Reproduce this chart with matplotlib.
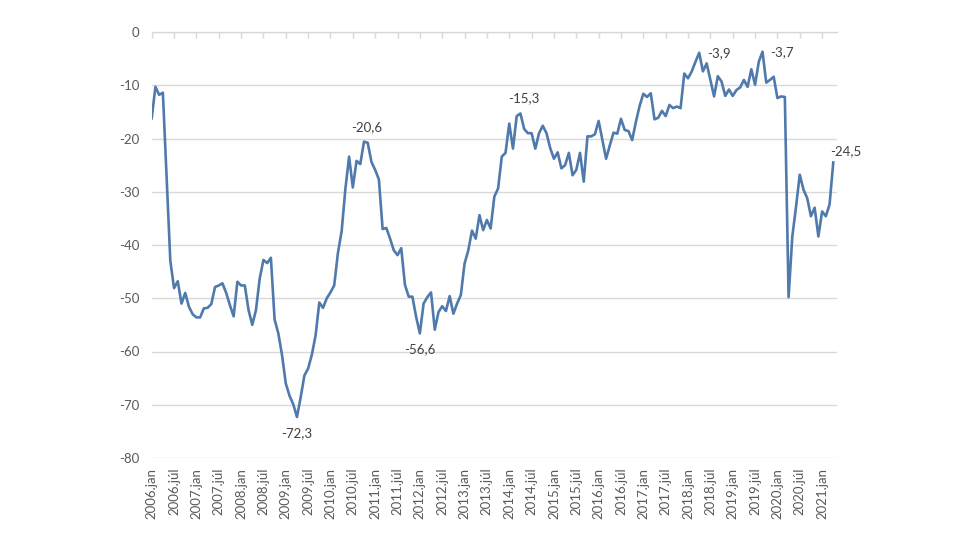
import matplotlib
matplotlib.use("Agg")
import matplotlib.pyplot as plt

values = [
    -16.2, -10.3, -11.8, -11.4, -27.0, -43.0, -48.1, -46.8, -51.0, -49.0, -51.6, -53.0,
    -53.6, -53.6, -51.9, -51.8, -51.1, -47.9, -47.6, -47.2, -49.0, -51.3, -53.4, -46.9,
    -47.6, -47.6, -52.2, -55.0, -52.2, -46.3, -42.8, -43.4, -42.4, -54.0, -56.6, -60.7,
    -66.0, -68.3, -69.9, -72.3, -68.6, -64.5, -63.2, -60.6, -57.0, -50.8, -51.8, -50.0,
    -48.9, -47.6, -41.5, -37.4, -29.5, -23.4, -29.2, -24.2, -24.8, -20.6, -20.8, -24.4,
    -25.9, -27.7, -37.0, -36.8, -38.8, -41.0, -41.9, -40.6, -47.5, -49.7, -49.7, -53.5,
    -56.6, -51.0, -49.8, -48.9, -55.9, -52.6, -51.5, -52.4, -49.6, -52.9, -51.0, -49.4,
    -43.5, -41.0, -37.3, -38.8, -34.4, -37.2, -35.3, -36.9, -30.9, -29.4, -23.4, -22.7,
    -17.2, -21.9, -15.8, -15.3, -18.2, -19.0, -19.0, -21.9, -19.0, -17.6, -19.0, -21.8,
    -23.8, -22.6, -25.6, -25.0, -22.7, -26.9, -25.9, -22.7, -28.1, -19.6, -19.6, -19.2,
    -16.7, -20.3, -23.8, -21.3, -18.9, -19.1, -16.3, -18.4, -18.6, -20.3, -16.9, -13.9,
    -11.6, -12.2, -11.5, -16.4, -16.1, -14.8, -15.8, -13.7, -14.3, -14.0, -14.3, -7.8,
    -8.7, -7.4, -5.6, -3.9, -7.4, -5.9, -9.0, -12.1, -8.3, -9.3, -12.0, -10.8,
    -12.0, -10.9, -10.4, -9.0, -10.3, -7.0, -9.9, -5.6, -3.7, -9.5, -9.0, -8.4,
    -12.4, -12.1, -12.2, -49.8, -38.4, -32.8, -26.8, -29.6, -31.2, -34.6, -33.0, -38.4,
    -33.7, -34.6, -32.4, -24.5,
]

tick_labels = [
    "2006.jan", "2006.júl", "2007.jan", "2007.júl", "2008.jan", "2008.júl",
    "2009.jan", "2009.júl", "2010.jan", "2010.júl", "2011.jan", "2011.júl",
    "2012.jan", "2012.júl", "2013.jan", "2013.júl", "2014.jan", "2014.júl",
    "2015.jan", "2015.júl", "2016.jan", "2016.júl", "2017.jan", "2017.júl",
    "2018.jan", "2018.júl", "2019.jan", "2019.júl", "2020.jan", "2020.júl",
    "2021.jan",
]
tick_step = 6

y_ticks = [0, -10, -20, -30, -40, -50, -60, -70, -80]

# annotated points: (index, position)
annotated = [(57, "above"), (39, "below"), (72, "below"), (99, "above"),
             (147, "right"), (164, "right"), (183, "aboveright")]

plt.rcParams['font.family'] = ['Lato', 'DejaVu Sans']
grey = "#595959"
grid_c = "#d9d9d9"
line_c = "#4f7aab"

fig = plt.figure(figsize=(9.6, 5.4), dpi=100)
ax = fig.add_axes([151.7 / 960, (540 - 458) / 540, (837 - 151.7) / 960, (458 - 32) / 540])

x = list(range(len(values)))
ax.plot(x, values, color=line_c, linewidth=1.9, solid_joinstyle="round", zorder=3)

ax.set_xlim(0, 184)
ax.set_ylim(-80, 0)

ax.set_yticks(y_ticks)
ax.set_yticklabels([str(v) for v in y_ticks])
ax.yaxis.grid(True, color=grid_c, linewidth=1.0)
ax.set_axisbelow(True)

tick_pos = [i * tick_step for i in range(len(tick_labels))]
ax.set_xticks(tick_pos)
ax.set_xticklabels(tick_labels, rotation=90, va="top", ha="center")

ax.tick_params(axis="y", length=0, pad=9, labelsize=9.5, labelcolor=grey)
ax.tick_params(axis="x", bottom=False, top=True, labelbottom=True, labeltop=False,
               direction="in", length=4, width=1, color=grid_c,
               labelsize=9.5, labelcolor=grey, pad=7)

for side in ["left", "right", "bottom"]:
    ax.spines[side].set_visible(False)
ax.spines["top"].set_color(grid_c)
ax.spines["top"].set_linewidth(1.0)

offsets = {"above": (3, 15, "center", "center"),
           "below": (0, -16, "center", "center"),
           "right": (8, 0, "left", "center"),
           "aboveright": (12, 11, "center", "center")}
for idx, pos in annotated:
    dx, dy, ha, va = offsets[pos]
    txt = f"{values[idx]:.1f}".replace(".", ",")
    ax.annotate(txt, (idx, values[idx]), xytext=(dx, dy), textcoords="offset pixels",
                ha=ha, va=va, fontsize=9.5, color="#404040")

fig.savefig("out.png", dpi=100, facecolor="white")
